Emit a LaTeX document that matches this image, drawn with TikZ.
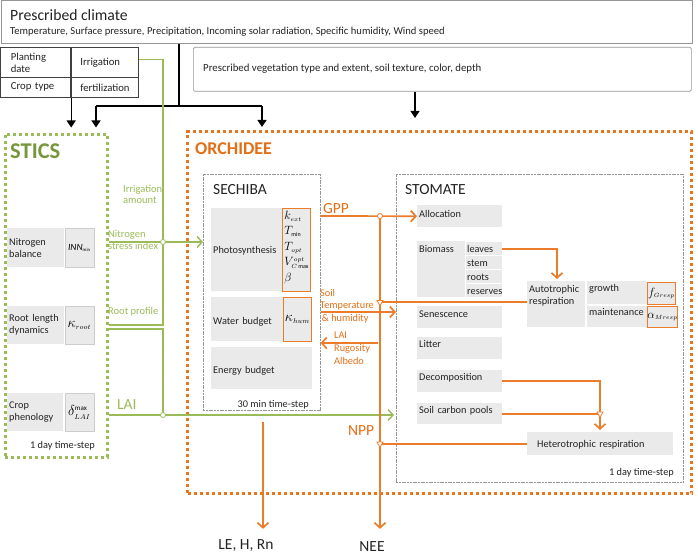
\documentclass[tikz,border=0pt]{standalone}
\usepackage{amsmath}
\usepackage{fontspec}
\setmainfont{Carlito}
\usetikzlibrary{arrows.meta,shapes.geometric,positioning}
\definecolor{sticsgreen}{RGB}{155,187,89}
\definecolor{sticsdark}{RGB}{118,150,60}
\definecolor{orchline}{RGB}{234,124,44}
\definecolor{orchdots}{RGB}{232,118,30}
\definecolor{orchtext}{RGB}{228,110,20}
\definecolor{boxgrey}{RGB}{234,234,234}
\definecolor{framegrey}{RGB}{150,150,150}
\definecolor{textdark}{RGB}{35,35,35}
\newcommand{\fsz}[2]{\fontsize{#1}{#2}\selectfont}

\begin{document}
\begin{tikzpicture}[x=1pt,y=-1pt,
  cell/.style={draw=black!75, line width=0.7pt, anchor=north west, inner xsep=10pt, inner ysep=0pt, align=left, font=\fsz{10.7}{12}, text=textdark},
  gbox/.style={fill=boxgrey, anchor=north west, inner xsep=2pt, inner ysep=0pt, align=left, font=\fsz{10.3}{12}, text=textdark},
  parbox/.style={draw=orchline, fill=boxgrey, line width=0.9pt, anchor=north west, inner sep=0pt, align=left},
  sparbox/.style={draw=black!20, fill=boxgrey, line width=0.7pt, anchor=north west, inner sep=0pt},
  dotframe/.style={line width=3pt, dash pattern=on 3pt off 3pt, anchor=north west, inner sep=0pt},
  subframe/.style={draw=framegrey, line width=0.6pt, dash pattern=on 2pt off 0.7pt, anchor=north west, inner sep=0pt},
  title/.style={anchor=base west, inner sep=0pt, font=\fsz{15.5}{18}, text=textdark},
  steplab/.style={anchor=base east, inner sep=0pt, font=\fsz{10.3}{12}, text=textdark},
  blackline/.style={draw=black, line width=1.3pt},
  blackarrow/.style={blackline, -{Triangle[length=7pt,width=9pt]}},
  greenline/.style={draw=sticsgreen, line width=1.4pt},
  greenarrow/.style={greenline, -{Straight Barb[length=5pt,width=11pt]}},
  orline/.style={draw=orchline, line width=1.7pt},
  orarrow/.style={orline, -{Straight Barb[length=5pt,width=11pt]}},
  gjunc/.style={circle, draw=sticsgreen, fill=white, line width=0.8pt, inner sep=0pt, minimum size=5pt},
  ojunc/.style={circle, draw=orchline, fill=white, line width=0.8pt, inner sep=0pt, minimum size=5pt},
  otri/.style={regular polygon, regular polygon sides=3, shape border rotate=180, draw=orchline, fill=white, line width=0.8pt, inner sep=0pt, minimum size=7pt},
  glabel/.style={text=sticsgreen, anchor=north west, align=left, inner sep=0pt, font=\fsz{10.5}{11}},
  olabel/.style={text=orchtext, anchor=north west, align=left, inner sep=0pt, font=\fsz{10.3}{12.5}},
  flux/.style={anchor=base, inner sep=0pt, font=\fsz{15.5}{18}, text=textdark}]
  \useasboundingbox (0,0) rectangle (698,559);

  % prescribed inputs
  \node[draw=framegrey, line width=0.8pt, anchor=north west, inner sep=0pt, minimum width=691pt, minimum height=43pt] (climate) at (0.5,0.5) {};
  \node[anchor=base west, inner sep=0pt, font=\fsz{15.7}{18}, text=textdark] (climtitle) at (10,21) {Prescribed climate};
  \node[anchor=base west, inner sep=0pt, font=\fsz{10.6}{12}, text=textdark] (climvars) at (10,35) {Temperature, Surface pressure, Precipitation, Incoming solar radiation, Specific humidity, Wind speed};
  \node[cell, text width=50pt, minimum height=30pt] (plant) at (0.5,47) {Planting\\date};
  \node[cell, text width=48pt, minimum height=30pt] (irrig) at (70,47) {Irrigation};
  \node[cell, text width=50pt, minimum height=20pt] (crop) at (0.5,77) {Crop type};
  \node[cell, text width=48pt, minimum height=20pt] (fert) at (70,77) {fertilization};
  \node[draw=framegrey, line width=0.7pt, rounded corners=1.5pt, anchor=north west, inner sep=0pt, minimum width=498pt, minimum height=44pt] (veg) at (193,47) {};
  \node[anchor=base west, inner sep=0pt, font=\fsz{10.8}{12}, text=textdark] (vegtext) at (203,72) {Prescribed vegetation type and extent, soil texture, color, depth};

  % model frames
  \node[dotframe, draw=sticsgreen, minimum width=102pt, minimum height=323pt] (stics) at (3.5,132.5) {};
  \node[title, text=sticsdark, font=\bfseries\fsz{22.5}{26}] (sticstitle) at (10,158) {STICS};
  \node[dotframe, draw=orchdots, minimum width=504pt, minimum height=362pt] (orch) at (186,130) {};
  \node[title, text=orchtext, font=\bfseries\fsz{18}{21}] (orchtitle) at (195,154) {ORCHIDEE};
  \node[subframe, minimum width=117pt, minimum height=236pt] (sechiba) at (203,174) {};
  \node[title] (sechtitle) at (213,194) {SECHIBA};
  \node[subframe, minimum width=287pt, minimum height=308pt] (stomate) at (396,174) {};
  \node[title] (stomtitle) at (405,194) {STOMATE};

  % STICS modules
  \node[gbox, text width=53pt, minimum height=39pt] (nbal) at (7,228) {Nitrogen\\balance};
  \node[sparbox, minimum width=29pt, minimum height=39pt, font=\fsz{9.5}{11}] (innpar) at (64.5,228) {$\mathit{INN}_{\scriptscriptstyle\min}$};
  \node[gbox, text width=53pt, minimum height=38pt] (rootdyn) at (7,306) {Root length\\dynamics};
  \node[sparbox, minimum width=29pt, minimum height=38pt, font=\fsz{14}{16}] (rootpar) at (64.5,306) {$\kappa_{\scriptscriptstyle root}$};
  \node[gbox, text width=52pt, minimum height=38pt] (pheno) at (7,393) {Crop\\phenology};
  \node[sparbox, minimum width=29pt, minimum height=38pt, font=\fsz{14}{16}] (phenopar) at (64.5,393) {$\delta_{\scriptscriptstyle LAI}^{\scriptscriptstyle\max}$};
  \node[steplab] (sticsstep) at (95,448) {1 day time-step};

  % SECHIBA modules
  \node[gbox, text width=67pt, text height=45pt, text depth=38pt] (photo) at (211,208) {Photosynthesis};
  \node[parbox, text width=24pt, inner xsep=2pt, text height=11pt, text depth=72pt, font=\fsz{12}{15.5}] (photopar) at (282,208)
    {$k_{\scriptscriptstyle ext}$\\$T_{\scriptscriptstyle\min}$\\$T_{\scriptscriptstyle opt}$\\$V_{\scriptscriptstyle C\max}^{\scriptscriptstyle opt}$\\$\beta$};
  \node[gbox, text width=68pt, text height=27pt, text depth=17pt] (water) at (211,297) {Water budget};
  \node[parbox, minimum width=28pt, minimum height=44pt, font=\fsz{14}{16}] (waterpar) at (283,297) {$\kappa_{\scriptscriptstyle hum}$};
  \node[gbox, text width=97pt, text height=26pt, text depth=16pt] (energy) at (211,347) {Energy budget};
  \node[steplab] (sechstep) at (309,407) {30 min time-step};

  % STOMATE modules
  \node[gbox, text width=81pt, text height=12pt, text depth=10pt] (alloc) at (417,205) {Allocation};
  \node[gbox, text width=44pt, text height=11pt, text depth=45pt] (biomass) at (417,241) {Biomass};
  \node[gbox, inner xsep=1pt, text width=34pt, text height=10pt, text depth=3pt] (leaves) at (466,242) {leaves};
  \node[gbox, inner xsep=1pt, text width=34pt, text height=10pt, text depth=3pt] (stem) at (466,256) {stem};
  \node[gbox, inner xsep=1pt, text width=34pt, text height=10pt, text depth=3pt] (roots) at (466,270) {roots};
  \node[gbox, inner xsep=1pt, text width=34pt, text height=10pt, text depth=3pt] (reserves) at (466,284) {reserves};
  \node[gbox, text width=54pt, text height=11pt, text depth=35pt] (auto) at (527,281) {Autotrophic\\respiration};
  \node[gbox, text width=56pt, text height=10pt, text depth=13pt] (growth) at (587,281) {growth};
  \node[gbox, text width=56pt, text height=9pt, text depth=12pt] (maint) at (587,306) {maintenance};
  \node[parbox, minimum width=28pt, minimum height=22pt, font=\fsz{12.5}{14}] (gresp) at (647,282) {$f_{\scriptscriptstyle Gresp}$};
  \node[parbox, minimum width=28pt, minimum height=21pt, font=\fsz{13}{14}] (mresp) at (647,306) {$\alpha_{\scriptscriptstyle Mresp}$};
  \node[gbox, text width=81pt, text height=11pt, text depth=11pt] (senes) at (417,306) {Senescence};
  \node[gbox, text width=81pt, text height=10pt, text depth=12pt] (litter) at (417,337) {Litter};
  \node[gbox, text width=81pt, text height=10pt, text depth=12pt] (decomp) at (417,370) {Decomposition};
  \node[gbox, text width=81pt, text height=10pt, text depth=11pt] (soilc) at (417,403) {Soil carbon pools};
  \node[gbox, inner xsep=10pt, text width=126pt, text height=15pt, text depth=8pt] (het) at (527,432) {Heterotrophic respiration};
  \node[steplab] (stomstep) at (674,475) {1 day time-step};

  % outputs
  \node[flux] (lehrn) at (246,549) {LE, H, Rn};
  \node[flux] (nee) at (372,551) {NEE};

  % forcing arrows
  \coordinate (fork) at (179,106);
  \coordinate (forkL) at (96,106);
  \coordinate (forkR) at (262,106);
  \draw[blackline] (climate.south -| fork) -- (fork);
  \draw[blackline] (forkL) -- (forkR);
  \draw[blackarrow, shorten >=5pt] (forkL) -- (forkL |- stics.north);
  \draw[blackarrow, shorten >=3pt] (forkR) -- (forkR |- orch.north);
  \draw[blackarrow, shorten >=5pt] (crop.south east) -- (crop.south east |- stics.north);
  \draw[blackarrow] (veg.south -| 415,0) -- (415,118);

  % STICS -> ORCHIDEE
  \coordinate (gbus) at (163,242);
  \coordinate (gbus2) at (163,415);
  \draw[greenline] ([yshift=3pt]irrig.east) -- ([yshift=3pt]irrig.east -| gbus) -- (gbus);
  \draw[greenline] (stics.east |- 0,325) -- (gbus |- 0,325) -- (gbus);
  \draw[greenline] (stics.east |- 0,329) -- (gbus2 |- 0,329) -- (gbus2);
  \draw[greenarrow] (stics.east |- gbus) -- (sechiba.west |- gbus);
  \draw[greenarrow, shorten >=2pt] (stics.east |- gbus2) -- (stomate.west |- gbus2);
  \node[gjunc] (gj1) at (gbus) {};
  \node[gjunc] (gj2) at (gbus2) {};
  \node[glabel] (irrlab) at (123,185) {Irrigation\\amount};
  \node[glabel, font=\fsz{10.5}{12}] (nitlab) at (108,230) {Nitrogen\\stress index};
  \node[glabel, anchor=base west] (rootlab) at (108,314) {Root profile};
  \node[glabel, anchor=base west, font=\fsz{15.5}{18}] (lailab) at (117,409) {LAI};

  % carbon and energy fluxes
  \coordinate (cbus) at (380,216);
  \draw[orarrow] (sechiba.east |- cbus) -- (alloc.west);
  \draw[orarrow, shorten >=12pt] (cbus) -- (cbus |- nee.north);
  \draw[orline] ([yshift=2pt]auto.west) -- ([yshift=2pt]auto.west -| cbus);
  \draw[orarrow] (sechiba.east |- 0,312) -- (stomate.west |- 0,312);
  \draw[orarrow] (378,343) -- (sechiba.east |- 0,343);
  \draw[orline] (het.west) -- (het.west -| cbus);
  \draw[orarrow, shorten >=2pt] (leaves.east) -- (leaves.east -| 557,0) -- (auto.north -| 557,0);
  \draw[orarrow, shorten >=2pt] (decomp.east) -- (decomp.east -| 600,0) -- (het.north -| 600,0);
  \draw[orline] (soilc.east) -- (soilc.east -| 600,0);
  \coordinate (leout) at (263,422);
  \draw[orarrow, shorten >=10pt] (leout) -- (leout |- lehrn.north);
  \node[ojunc] (cj1) at (cbus) {};
  \node[otri] (cj2) at ([yshift=2pt]auto.west -| cbus) {};
  \node[otri] (cj3) at (het.west -| cbus) {};
  \node[otri] (cj4) at (soilc.east -| 600,0) {};
  \node[olabel, anchor=base west, font=\fsz{15.5}{18}] (gpplab) at (323,213) {GPP};
  \node[olabel, anchor=base west, font=\fsz{15.5}{18}] (npplab) at (348,435) {NPP};
  \node[olabel] (soillab) at (320,289) {Soil\\Temperature\\\,\& humidity};
  \node[olabel, font=\fsz{10.3}{13}] (surflab) at (334,332) {LAI\\Rugosity\\Albedo};
\end{tikzpicture}
\end{document}
